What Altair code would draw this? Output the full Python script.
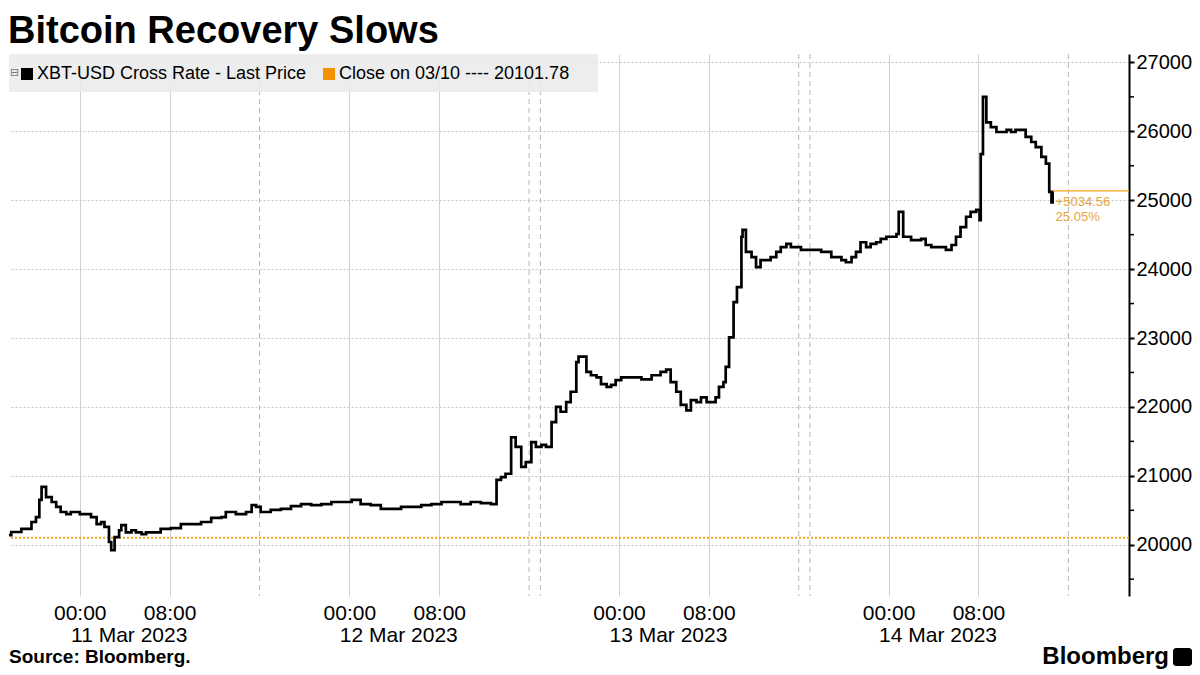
import altair as alt
import pandas as pd

# ---- data (hours since 11 Mar 2023 00:00, XBT-USD price) ----
hours = [-7.0, -6.1, -5.2, -4.3, -3.9, -3.6, -3.4, -3.0, -2.5, -2.1, -1.7, -1.2, -0.8, 0.0, 0.6, 1.0, 1.5, 1.9, 2.2, 2.6,
         2.8, 3.1, 3.5, 3.7, 4.1, 4.6, 5.0, 5.5, 5.9, 6.4, 7.2, 8.1, 9.0, 9.9, 10.8, 11.7, 12.6, 13.0, 13.9, 14.8,
         15.3, 15.7, 16.1, 17.0, 17.9, 18.8, 19.7, 20.6, 21.5, 22.4, 23.3, 24.2, 25.0, 25.9, 26.8, 27.7, 28.6, 29.5, 30.4, 31.3,
         32.2, 33.1, 33.9, 34.8, 35.7, 36.6, 37.1, 37.5, 37.9, 38.4, 38.8, 39.3, 39.7, 40.2, 40.6, 41.1, 41.5, 42.0, 42.4, 42.8,
         43.3, 43.7, 44.2, 44.4, 45.1, 45.5, 46.0, 46.4, 46.9, 47.3, 47.7, 48.2, 49.1, 50.0, 50.9, 51.7, 52.2, 52.6, 53.1, 53.5,
         54.0, 54.4, 54.9, 55.3, 55.8, 56.2, 56.6, 56.9, 57.3, 57.5, 57.8, 58.2, 58.5, 58.9, 59.0, 59.3, 59.8, 60.2, 60.6, 61.1,
         61.5, 62.0, 62.4, 62.9, 63.3, 64.2, 65.1, 66.0, 66.9, 67.8, 68.2, 68.7, 69.1, 69.5, 70.0, 70.4, 70.9, 71.3, 71.8, 72.2,
         72.7, 72.9, 73.3, 74.0, 74.9, 75.3, 75.8, 76.2, 76.7, 77.1, 77.6, 78.0, 78.4, 78.9, 79.3, 79.8, 80.1, 80.2, 80.4, 80.7,
         81.1, 81.6, 82.0, 82.5, 82.9, 83.3, 83.8, 84.2, 84.7, 85.1, 85.6, 86.0, 86.3, 86.5, 86.6]
prices = [20140, 20185, 20230, 20330, 20400, 20650, 20840, 20690, 20620, 20550, 20475, 20445, 20475, 20445, 20445, 20400, 20300, 20330, 20260, 20040,
          19920, 20110, 20210, 20285, 20180, 20210, 20180, 20155, 20180, 20180, 20230, 20240, 20300, 20300, 20330, 20390, 20400, 20475, 20445, 20475,
          20575, 20550, 20475, 20505, 20520, 20560, 20590, 20575, 20590, 20620, 20620, 20650, 20590, 20575, 20520, 20520, 20550, 20550, 20575, 20590,
          20620, 20620, 20590, 20620, 20605, 20590, 20940, 20980, 21030, 21560, 21420, 21130, 21200, 21490, 21420, 21450, 21420, 21780, 22000, 21930,
          22070, 22220, 22650, 22730, 22510, 22460, 22430, 22330, 22290, 22320, 22390, 22430, 22430, 22400, 22460, 22510, 22540, 22360, 22220, 22030,
          21950, 22100, 22070, 22140, 22070, 22070, 22140, 22290, 22360, 22580, 23010, 23520, 23740, 24470, 24570, 24250, 24175, 24030, 24130, 24130,
          24175, 24250, 24320, 24365, 24320, 24280, 24280, 24250, 24175, 24130, 24100, 24175, 24250, 24390, 24320, 24365, 24390, 24440, 24470, 24470,
          24510, 24830, 24470, 24420, 24440, 24350, 24320, 24320, 24320, 24280, 24350, 24470, 24610, 24760, 24830, 24860, 24710, 25670, 26500, 26130,
          26060, 25990, 25990, 26020, 25990, 26020, 26020, 25920, 25845, 25770, 25630, 25530, 25120, 24970, 25136.34]
assert len(hours) == len(prices)

prev_close = 20101.78
change_abs = "+5034.56"
change_pct = "25.05%"

tick_hours = [0, 8, 24, 32, 48, 56, 72, 80]
session_hours = [16, 40, 41, 64, 65, 88]
date_label_hours = [4.4, 28.4, 52.4, 76.4]
date_labels = ["11 Mar 2023", "12 Mar 2023", "13 Mar 2023", "14 Mar 2023"]
minor_ticks = [19500, 20500, 21500, 22500, 23500, 24500, 25500, 26500]
legend_labels = ["XBT-USD Cross Rate - Last Price", "Close on 03/10 ---- 20101.78"]

W, H = 1120, 542
FONT = "Liberation Sans"
ORANGE = "#f5a31a"
X_DOM = [-6.3, 93.4]
Y_DOM = [19256, 27122]

xs = alt.Scale(domain=X_DOM, nice=False, zero=False)
ys = alt.Scale(domain=Y_DOM, nice=False, zero=False)
X_AXIS = alt.Axis(values=tick_hours, labelExpr="datum.value % 24 == 0 ? '00:00' : '08:00'",
                  grid=True, gridColor="#d0d0d0", gridWidth=1, domain=False, ticks=False,
                  labelFont=FONT, labelFontSize=21, labelColor="black", labelPadding=6,
                  labelFlush=False, labelOverlap=False, title=None)
Y_AXIS = alt.Axis(orient="right", values=list(range(20000, 27001, 1000)), format="d",
                  grid=True, gridColor="#c4c4c4", gridDash=[2, 2], gridWidth=1,
                  domainColor="black", domainWidth=2, tickColor="black", tickWidth=2, tickSize=5,
                  labelFont=FONT, labelFontSize=20, labelColor="black", labelPadding=2, title=None)


def X(field):
    return alt.X(field, type="quantitative", scale=xs, axis=X_AXIS)


def Y(field):
    return alt.Y(field, type="quantitative", scale=ys, axis=Y_AXIS)


df = pd.DataFrame({"hour": hours, "price": prices})

line = alt.Chart(df).mark_line(color="black", strokeWidth=2.7, interpolate="step-after", clip=True).encode(
    x=X("hour"), y=Y("price"))

sess = alt.Chart(pd.DataFrame({"hour": session_hours})).mark_rule(
    color="#b5b5b5", strokeDash=[5, 4], strokeWidth=1).encode(x=X("hour"))

minor = alt.Chart(pd.DataFrame({"price": minor_ticks})).mark_rule(color="black", strokeWidth=1.5).encode(
    y=Y("price"), x=alt.value(W), x2=alt.value(W + 5))

close_line = alt.Chart(pd.DataFrame({"price": [prev_close]})).mark_rule(
    color=ORANGE, strokeDash=[2, 2], strokeWidth=2).encode(y=Y("price"))

last_df = pd.DataFrame({"hour": [hours[-1]], "hour2": [X_DOM[1]], "price": [prices[-1]],
                        "a": [change_abs], "p": [change_pct]})
last_line = alt.Chart(last_df).mark_rule(color=ORANGE, strokeWidth=1.2).encode(
    x=X("hour"), x2="hour2:Q", y=Y("price"))
ann1 = alt.Chart(last_df).mark_text(align="left", baseline="middle", dx=3, dy=11, font=FONT,
                                    fontSize=13, color="#e8a33d").encode(x=X("hour"), y=Y("price"), text="a:N")
ann2 = alt.Chart(last_df).mark_text(align="left", baseline="middle", dx=3, dy=26, font=FONT,
                                    fontSize=13, color="#e8a33d").encode(x=X("hour"), y=Y("price"), text="p:N")

dates = alt.Chart(pd.DataFrame({"hour": date_label_hours, "label": date_labels})).mark_text(
    baseline="middle", align="center", font=FONT, fontSize=21, color="black").encode(
    x=X("hour"), y=alt.value(H + 40), text="label:N")

# legend box
one = pd.DataFrame({"k": [0]})
leg_bg = alt.Chart(one).mark_rect(color="#ebebeb", opacity=0.9).encode(
    x=alt.value(0), x2=alt.value(589), y=alt.value(0), y2=alt.value(38))
leg_icon = alt.Chart(one).mark_text(text="⊟", font="DejaVu Sans", fontSize=11, color="#777777",
                                    align="left", baseline="middle").encode(x=alt.value(1), y=alt.value(19))
leg_sq1 = alt.Chart(one).mark_rect(color="black").encode(
    x=alt.value(12), x2=alt.value(24), y=alt.value(14), y2=alt.value(26))
leg_sq2 = alt.Chart(one).mark_rect(color="#f39200").encode(
    x=alt.value(314), x2=alt.value(326), y=alt.value(14), y2=alt.value(26))
leg_txt1 = alt.Chart(one).mark_text(text=legend_labels[0], align="left", baseline="middle", font=FONT,
                                    fontSize=18, color="black").encode(x=alt.value(28), y=alt.value(20))
leg_txt2 = alt.Chart(one).mark_text(text=legend_labels[1], align="left", baseline="middle", font=FONT,
                                    fontSize=18, color="black").encode(x=alt.value(330), y=alt.value(20))

source = alt.Chart(one).mark_text(text="Source: Bloomberg.", font=FONT, fontSize=19, fontWeight="bold",
                                  align="left", baseline="middle", color="black").encode(
    x=alt.value(0), y=alt.value(H + 61))
brand = alt.Chart(one).mark_text(text="Bloomberg", font=FONT, fontSize=24, fontWeight="bold",
                                 align="right", baseline="middle", color="black").encode(
    x=alt.value(W + 40), y=alt.value(H + 61))
brand_icon = alt.Chart(one).mark_rect(color="black", cornerRadius=3).encode(
    x=alt.value(W + 44), x2=alt.value(W + 63), y=alt.value(H + 52), y2=alt.value(H + 70))

chart = alt.layer(
    sess, close_line, leg_bg, line, minor, last_line, ann1, ann2, dates,
    leg_icon, leg_sq1, leg_sq2, leg_txt1, leg_txt2, source, brand, brand_icon
).properties(
    width=W, height=H, padding={"top": 5, "left": 0, "right": 0, "bottom": 0},
    title=alt.TitleParams("Bitcoin Recovery Slows", anchor="start", font=FONT, fontSize=38,
                          fontWeight="bold", color="black", offset=1),
).configure_view(stroke=None)

chart.save("out.html", embed_options={"renderer": "svg", "actions": False})
